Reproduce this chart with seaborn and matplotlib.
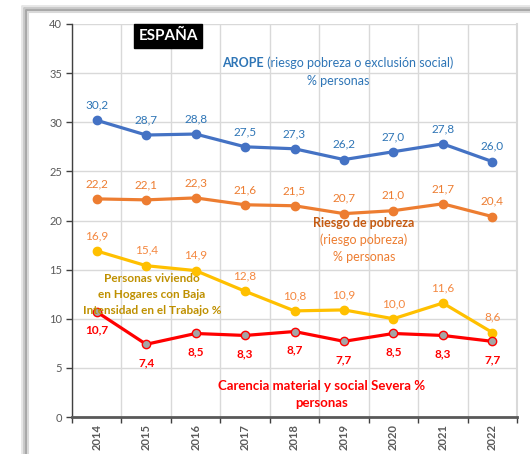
import matplotlib
matplotlib.use("Agg")
import matplotlib.pyplot as plt
import seaborn as sns
import pandas as pd
import numpy as np
from matplotlib.lines import Line2D

years = ["2014", "2015", "2016", "2017", "2018", "2019", "2020", "2021", "2022"]
arope = [30.2, 28.7, 28.8, 27.5, 27.3, 26.2, 27.0, 27.8, 26.0]
riesgo = [22.2, 22.1, 22.3, 21.6, 21.5, 20.7, 21.0, 21.7, 20.4]
baja_int = [16.9, 15.4, 14.9, 12.8, 10.8, 10.9, 10.0, 11.6, 8.6]
carencia = [10.7, 7.4, 8.5, 8.3, 8.7, 7.7, 8.5, 8.3, 7.7]
yticks = [0, 5, 10, 15, 20, 25, 30, 35, 40]

sns.set_theme(style="white")
plt.rcParams['font.family'] = ['Lato', 'DejaVu Sans']

fig = plt.figure(figsize=(5.30, 4.54), dpi=100)
ax = fig.add_axes([72/530, 1-417/454, (517-72)/530, (417-24)/454])

# chart frame with shadow
for off, col, lw in [(-4, "#e6e6e6", 2), (-2, "#c8c8c8", 2), (0, "#a6a6a6", 2), (2, "#d9d9d9", 1.5)]:
    x0 = (26 + off) / 530
    y0 = 1 - (10 + off) / 454
    fig.add_artist(Line2D([x0, x0], [-0.05, y0], transform=fig.transFigure, color=col, lw=lw))
    fig.add_artist(Line2D([x0, 1.05], [y0, y0], transform=fig.transFigure, color=col, lw=lw))

df = pd.DataFrame({"year": years * 4,
                   "value": arope + riesgo + baja_int + carencia,
                   "serie": ["AROPE"] * 9 + ["Riesgo"] * 9 + ["Baja"] * 9 + ["Carencia"] * 9})

colors = {"AROPE": "#4472C4", "Riesgo": "#ED7D31", "Baja": "#FFC000", "Carencia": "#FF0000"}
for s in ["AROPE", "Riesgo", "Baja", "Carencia"]:
    sub = df[df.serie == s]
    mfc = "#A5A5A5" if s == "Carencia" else colors[s]
    sns.lineplot(data=sub, x="year", y="value", ax=ax, color=colors[s], lw=2.3,
                 marker="o", markersize=6, markerfacecolor=mfc,
                 markeredgecolor=colors[s], markeredgewidth=1, sort=False, zorder=3)

ax.set_xlim(-0.5, 8.5)
ax.set_ylim(0, 40)
ax.set_yticks(yticks)
ax.set_yticklabels([str(t) for t in yticks], color="#595959", fontsize=8)
ax.set_xticks(range(9))
ax.set_xticklabels(years, rotation=90, fontsize=8, fontweight="bold", color="#595959")
ax.set_xticks(np.arange(-0.5, 9, 1), minor=True)
ax.tick_params(axis="x", which="major", length=0, pad=5)
ax.tick_params(axis="x", which="minor", length=4, width=1, color="#404040", direction="out", bottom=True)
ax.tick_params(axis="y", length=4, width=1, color="#404040", direction="out", left=True, pad=3)
ax.grid(True, axis="y", which="major", color="#d9d9d9", lw=1)
ax.grid(True, axis="x", which="minor", color="#d9d9d9", lw=1)
ax.grid(False, axis="x", which="major")
ax.set_xlabel("")
ax.set_ylabel("")
ax.spines["top"].set_visible(False)
ax.spines["right"].set_color("#d9d9d9")
ax.spines["right"].set_linewidth(1.5)
ax.spines["left"].set_color("#404040")
ax.spines["left"].set_linewidth(1)
ax.spines["bottom"].set_color("#595959")
ax.spines["bottom"].set_linewidth(2)
if ax.legend_:
    ax.legend_.remove()

def fmt(v):
    return f"{v:.1f}".replace(".", ",")

for i, v in enumerate(arope):
    ax.annotate(fmt(v), (i, v), xytext=(0, 11), textcoords="offset points",
                ha="center", va="center", fontsize=8.5, color="#2E75B6")
for i, v in enumerate(riesgo):
    ax.annotate(fmt(v), (i, v), xytext=(0, 11), textcoords="offset points",
                ha="center", va="center", fontsize=8.5, color="#ED7D31")
for i, v in enumerate(baja_int):
    ax.annotate(fmt(v), (i, v), xytext=(0, 11), textcoords="offset points",
                ha="center", va="center", fontsize=8.5, color="#F4873F")
for i, v in enumerate(carencia):
    ax.annotate(fmt(v), (i, v), xytext=(0, -13), textcoords="offset points",
                ha="center", va="center", fontsize=8.5, color="#FF0000", fontweight="bold")

def ftxt(x, y, s, **kw):
    return fig.text(x/530, 1-y/454, s, ha="center", va="center", **kw)

fig.text(168/530, 1-36/454, "ESPAÑA", ha="center", va="center", fontsize=11,
         fontweight="bold", color="white",
         bbox=dict(boxstyle="square,pad=0.3", fc="black", ec="black"))

# AROPE title: bold part + regular part, centered together
renderer = fig.canvas.get_renderer()
ta = fig.text(0, 1-63/454, "AROPE", ha="left", va="center", fontsize=9,
              fontweight="bold", color="#2E75B6")
tb = fig.text(0, 1-63/454, " (riesgo pobreza o exclusión social)", ha="left", va="center",
              fontsize=9, color="#2E75B6")
wa = ta.get_window_extent(renderer).width
wb = tb.get_window_extent(renderer).width
start = 338 - (wa + wb) / 2
ta.set_x(start / 530)
tb.set_x((start + wa) / 530)
ftxt(338, 81, "% personas", fontsize=9, color="#2E75B6")

ftxt(364, 223, "Riesgo de pobreza", fontsize=9, fontweight="bold", color="#C55A11")
ftxt(364, 240, "(riesgo pobreza)", fontsize=9, color="#ED7D31")
ftxt(364, 257, "% personas", fontsize=9, color="#ED7D31")

ftxt(152, 279, "Personas viviendo", fontsize=8.5, fontweight="bold", color="#BF9000")
ftxt(152, 295, "en Hogares con Baja", fontsize=8.5, fontweight="bold", color="#BF9000")
ftxt(152, 310, "Intensidad en el Trabajo %", fontsize=8.5, fontweight="bold", color="#BF9000")

ftxt(322, 386, "Carencia material y social Severa %", fontsize=9.5, fontweight="bold", color="#FF0000")
ftxt(322, 403, "personas", fontsize=9.5, fontweight="bold", color="#FF0000")

fig.savefig("out.png", dpi=100)
